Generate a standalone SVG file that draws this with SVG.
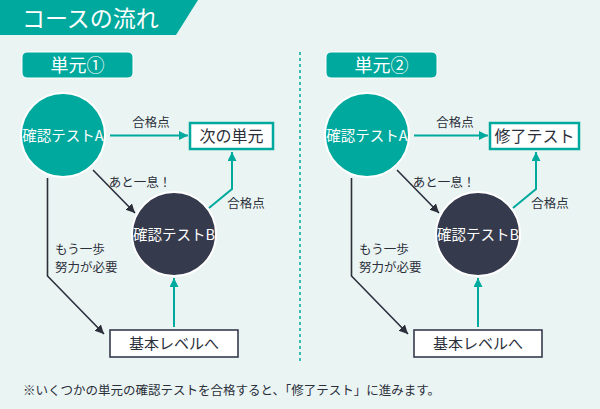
<svg xmlns="http://www.w3.org/2000/svg" width="600" height="409" viewBox="0 0 600 409">
<style>
  text { font-family: "Noto Sans CJK JP", "Noto Sans", sans-serif; }
  .lbl { font-size: 12.5px; fill: #2b2f3a; }
  .tl { stroke: #00a99d; stroke-width: 2; fill: none; }
  .dl { stroke: #2b2f3a; stroke-width: 1.6; fill: none; }
  .circA { fill: #00a99d; stroke: #ffffff; stroke-width: 2; }
  .circB { fill: #353a4d; stroke: #ffffff; stroke-width: 2; }
  .unit { fill: #00a99d; stroke: #ffffff; stroke-width: 1; }
  .ctext { font-size: 14.5px; fill: #ffffff; text-anchor: middle; }
  .boxT { fill: #ffffff; stroke: #00a99d; stroke-width: 2.5; }
  .boxD { fill: #ffffff; stroke: #353a4d; stroke-width: 1.6; }
</style>
<defs>
  <marker id="at" markerUnits="userSpaceOnUse" markerWidth="10" markerHeight="10" refX="9" refY="4.5" orient="auto">
    <path d="M0,0 L9,4.5 L0,9 z" fill="#00a99d"/>
  </marker>
  <marker id="ad" markerUnits="userSpaceOnUse" markerWidth="10" markerHeight="10" refX="9" refY="4.5" orient="auto">
    <path d="M0,0 L9,4.5 L0,9 z" fill="#2b2f3a"/>
  </marker>
</defs>
<rect x="0" y="0" width="600" height="409" fill="#eaf4f3"/>

<g id="title">
  <polygon points="0,0 198,0 176,35 0,35" fill="#00a99d"/>
  <text x="22" y="27" font-size="23" fill="#ffffff">コースの流れ</text>
</g>

<line id="divider" x1="300" y1="52" x2="300" y2="363" stroke="#00a99d" stroke-width="1.5" stroke-dasharray="3,3"/>

<g id="connectors">
  <line class="tl" x1="110" y1="135.5" x2="188" y2="135.5" marker-end="url(#at)"/>
  <polyline class="tl" points="209,208 232,189 232,152" marker-end="url(#at)"/>
  <line class="dl" x1="93" y1="170" x2="135" y2="213" marker-end="url(#ad)"/>
  <polyline class="dl" points="47.5,178 47.5,276 104,334" marker-end="url(#ad)"/>
  <line class="tl" x1="174" y1="327" x2="174" y2="278" marker-end="url(#at)"/>
  <line class="tl" x1="414" y1="135.5" x2="488" y2="135.5" marker-end="url(#at)"/>
  <polyline class="tl" points="513,208 536,189 536,152" marker-end="url(#at)"/>
  <line class="dl" x1="397" y1="170" x2="439" y2="213" marker-end="url(#ad)"/>
  <polyline class="dl" points="351.5,178 351.5,276 408,334" marker-end="url(#ad)"/>
  <line class="tl" x1="478" y1="327" x2="478" y2="278" marker-end="url(#at)"/>
</g>

<g id="labels">
  <text class="lbl" x="151" y="127" text-anchor="middle">合格点</text>
  <text class="lbl" x="246" y="208" text-anchor="middle">合格点</text>
  <text class="lbl" x="140" y="187" text-anchor="middle">あと一息！</text>
  <text class="lbl" x="55" y="254">もう一歩</text>
  <text class="lbl" x="55" y="272">努力が必要</text>
  <text class="lbl" x="455" y="127" text-anchor="middle">合格点</text>
  <text class="lbl" x="550" y="208" text-anchor="middle">合格点</text>
  <text class="lbl" x="444" y="187" text-anchor="middle">あと一息！</text>
  <text class="lbl" x="359" y="254">もう一歩</text>
  <text class="lbl" x="359" y="272">努力が必要</text>
</g>

<g id="unit1-label">
  <rect class="unit" x="22" y="52" width="111" height="26" rx="5"/>
  <text x="77.5" y="71.5" font-size="18" fill="#ffffff" text-anchor="middle">単元①</text>
</g>
<g id="unit1-testA">
  <circle class="circA" cx="63" cy="135" r="42"/>
  <text class="ctext" x="63" y="140.5">確認テストA</text>
</g>
<g id="unit1-next">
  <rect class="boxT" x="190" y="123" width="83" height="26"/>
  <text x="231.5" y="142" font-size="16" fill="#2b2f3a" text-anchor="middle">次の単元</text>
</g>
<g id="unit1-testB">
  <circle class="circB" cx="174" cy="234" r="42"/>
  <text class="ctext" x="174" y="239.5">確認テストB</text>
</g>
<g id="unit1-basic">
  <rect class="boxD" x="110" y="330" width="128" height="27"/>
  <text x="174" y="349" font-size="15" fill="#2b2f3a" text-anchor="middle">基本レベルへ</text>
</g>

<g id="unit2-label">
  <rect class="unit" x="326" y="52" width="111" height="26" rx="5"/>
  <text x="381.5" y="71.5" font-size="18" fill="#ffffff" text-anchor="middle">単元②</text>
</g>
<g id="unit2-testA">
  <circle class="circA" cx="367" cy="135" r="42"/>
  <text class="ctext" x="367" y="140.5">確認テストA</text>
</g>
<g id="unit2-final">
  <rect class="boxT" x="490" y="123" width="89" height="26"/>
  <text x="534.5" y="142" font-size="16" fill="#2b2f3a" text-anchor="middle">修了テスト</text>
</g>
<g id="unit2-testB">
  <circle class="circB" cx="478" cy="234" r="42"/>
  <text class="ctext" x="478" y="239.5">確認テストB</text>
</g>
<g id="unit2-basic">
  <rect class="boxD" x="414" y="330" width="128" height="27"/>
  <text x="478" y="349" font-size="15" fill="#2b2f3a" text-anchor="middle">基本レベルへ</text>
</g>

<g id="footer">
  <text x="23" y="395" font-size="12.5" fill="#2b2f3a">※いくつかの単元の確認テストを合格すると、「修了テスト」に進みます。</text>
</g>
</svg>
